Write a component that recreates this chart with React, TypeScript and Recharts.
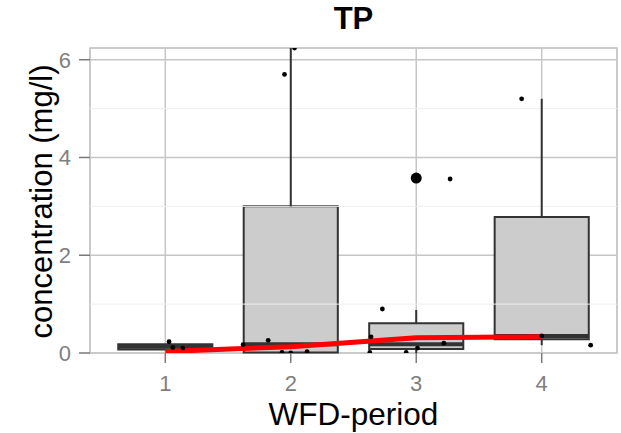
import React from 'react'
import {
  ComposedChart,
  XAxis,
  YAxis,
  CartesianGrid,
  ReferenceArea,
  ReferenceLine,
  Line,
  Scatter,
} from 'recharts'

// boxplot summary per WFD period
const periods = [1, 2, 3, 4]
const q1 = [0.07, 0.01, 0.08, 0.28]
const medians = [0.13, 0.18, 0.18, 0.35]
const q3 = [0.18, 3.0, 0.61, 2.78]
const whiskerLow = [0.07, 0, 0, 0.16]
const whiskerHigh = [0.18, 6.24, 0.88, 5.2]

// outliers drawn by the boxplot itself
const outlierX = [3]
const outlierY = [3.58]

// jittered raw observations
const jitterX = [1.03, 1.06, 1.14, 1.62, 1.82, 1.93, 2.0, 2.13, 1.95, 2.03, 2.73, 2.64, 3.01, 3.22, 2.63, 2.92, 3.27, 3.84, 4.0, 4.39]
const jitterY = [0.23, 0.11, 0.1, 0.17, 0.26, 0.01, 0, 0.03, 5.7, 6.24, 0.9, 0.33, 0.1, 0.2, 0.01, 0.01, 3.56, 5.2, 0.35, 0.16]

// red trend line
const trendY = [0.03, 0.13, 0.31, 0.33]

const xTicks = [1, 2, 3, 4]
const yTicks = [0, 2, 4, 6]
const yMinor = [1, 3, 5]

const FONT = '"Liberation Sans", Arial, sans-serif'
const BOX_W = 0.375

export default function App() {
  const trendData = periods.map((p, i) => ({ x: p, y: trendY[i] }))
  const pointData = jitterX.map((x, i) => ({ x, y: jitterY[i] }))
  const outlierData = outlierX.map((x, i) => ({ x, y: outlierY[i] }))

  const tickStyle = { fontSize: 22, fill: '#7f7f7f', fontFamily: FONT }

  return (
    <div style={{ position: 'absolute', left: 0, top: 0, width: 621, height: 433, background: '#fff' }}>
      <svg width={621} height={40} style={{ position: 'absolute', left: 0, top: 0 }}>
        <text x={353.5} y={29} textAnchor="middle" fontFamily={FONT} fontWeight="bold" fontSize={31} fill="#000">
          TP
        </text>
      </svg>
      <ComposedChart width={621} height={433} margin={{ top: 48, right: 4, bottom: 0, left: 0 }}>
        <CartesianGrid stroke="#c6c6c6" strokeWidth={1.5} />
        {yMinor.map((v) => (
          <ReferenceLine key={'m' + v} y={v} stroke="#efefef" strokeWidth={1} />
        ))}
        <XAxis
          dataKey="x"
          type="number"
          domain={[0.4, 4.6]}
          ticks={xTicks}
          allowDataOverflow
          height={80}
          tick={tickStyle}
          tickSize={10}
          tickMargin={12}
          axisLine={false}
          tickLine={{ stroke: '#7a7a7a', strokeWidth: 1.5 }}
          label={{
            content: () => (
              <text x={353.5} y={425} textAnchor="middle" fontFamily={FONT} fontSize={31.5} fill="#000">
                WFD-period
              </text>
            ),
          }}
        />
        <YAxis
          dataKey="y"
          type="number"
          domain={[0, 6.24]}
          ticks={yTicks}
          allowDataOverflow
          width={90}
          tick={tickStyle}
          tickSize={11}
          tickMargin={8}
          axisLine={false}
          tickLine={{ stroke: '#7a7a7a', strokeWidth: 1.5 }}
          label={{
            content: () => (
              <text
                x={0}
                y={0}
                transform="translate(41, 201.5) rotate(-90)"
                textAnchor="middle"
                dominantBaseline="central"
                fontFamily={FONT}
                fontSize={31}
                fill="#000"
              >
                concentration (mg/l)
              </text>
            ),
          }}
        />
        <ReferenceArea x1={0.4} x2={4.6} y1={0} y2={6.24} fill="none" stroke="#c6c6c6" strokeWidth={1.5} />
        {periods.map((p, i) => (
          <ReferenceLine
            key={'wl' + p}
            segment={[{ x: p, y: whiskerLow[i] }, { x: p, y: q1[i] }]}
            stroke="#333333"
            strokeWidth={2}
          />
        ))}
        {periods.map((p, i) => (
          <ReferenceLine
            key={'wh' + p}
            segment={[{ x: p, y: q3[i] }, { x: p, y: whiskerHigh[i] }]}
            stroke="#333333"
            strokeWidth={2}
          />
        ))}
        {periods.map((p, i) => (
          <ReferenceArea
            key={'b' + p}
            x1={p - BOX_W}
            x2={p + BOX_W}
            y1={q1[i]}
            y2={q3[i]}
            fill="#cccccc"
            fillOpacity={1}
            stroke="#333333"
            strokeWidth={2}
          />
        ))}
        {periods.map((p, i) => (
          <ReferenceLine
            key={'md' + p}
            segment={[{ x: p - BOX_W, y: medians[i] }, { x: p + BOX_W, y: medians[i] }]}
            stroke="#333333"
            strokeWidth={4}
          />
        ))}
        <Line
          data={trendData}
          dataKey="y"
          type="linear"
          stroke="#ff0000"
          strokeWidth={5}
          dot={false}
          activeDot={false}
          isAnimationActive={false}
        />
        <Scatter
          data={outlierData}
          dataKey="y"
          fill="#000"
          isAnimationActive={false}
          shape={(props: any) => <circle cx={props.cx} cy={props.cy} r={5.5} fill="#000" />}
        />
        <Scatter
          data={pointData}
          dataKey="y"
          fill="#000"
          isAnimationActive={false}
          shape={(props: any) => <circle cx={props.cx} cy={props.cy} r={2.4} fill="#000" />}
        />
      </ComposedChart>
    </div>
  )
}
